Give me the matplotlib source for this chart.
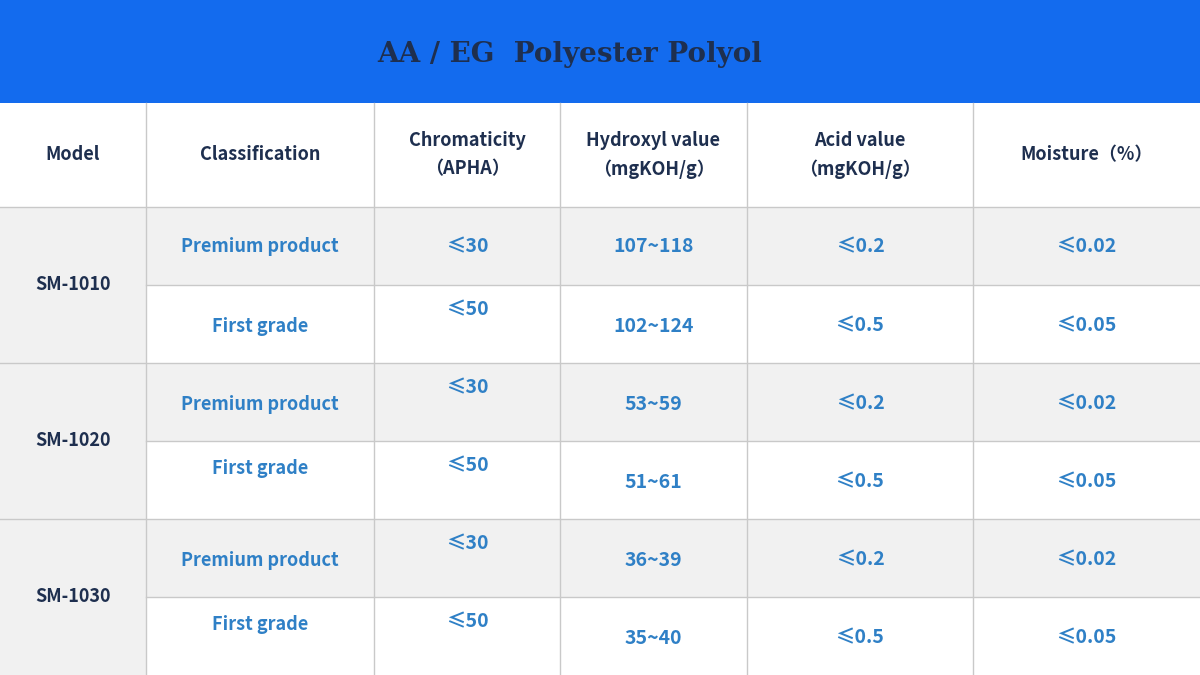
import matplotlib.pyplot as plt
from matplotlib.patches import Rectangle

plt.rcParams['font.family'] = ['Noto Sans CJK SC', 'DejaVu Sans']

title = "AA / EG  Polyester Polyol"
headers = ["Model", "Classification", "Chromaticity\n（APHA）", "Hydroxyl value\n（mgKOH/g）",
           "Acid value\n（mgKOH/g）", "Moisture（%）"]
models = ["SM-1010", "SM-1020", "SM-1030"]
classes = ["Premium product", "First grade"] * 3
chroma = ["≤30", "≤50", "≤30", "≤50", "≤30", "≤50"]
hydroxyl = ["107~118", "102~124", "53~59", "51~61", "36~39", "35~40"]
acid = ["≤0.2", "≤0.5"] * 3
moisture = ["≤0.02", "≤0.05"] * 3

col_x = [0, 146, 374, 560, 747, 973, 1200]
row_y = [207, 285, 363, 441, 519, 597, 675]
# text offsets in the reference are not always centred
class_y = [247, 326, 404, 468, 560, 624]
chroma_y = [247, 310, 388, 466, 544, 622]
value_y = [247, 326, 404, 482, 560, 638]

blue = "#136BEE"
navy = "#1E2F4F"
val_c = "#2F80C6"
line_c = "#C9C9C9"
gray = "#F1F1F1"

fig = plt.figure(figsize=(12, 6.75), dpi=100)
ax = fig.add_axes([0, 0, 1, 1])
ax.set_xlim(0, 1200)
ax.set_ylim(675, 0)
ax.axis("off")

ax.add_patch(Rectangle((0, 0), 1200, 103, color=blue, lw=0))
ax.text(570, 55, title, ha="center", va="center", fontsize=20, fontweight="bold",
        color=navy, family=["DejaVu Serif"])

cx = [(col_x[i] + col_x[i + 1]) / 2 for i in range(6)]
for i, h in enumerate(headers):
    ax.text(cx[i], 155, h, ha="center", va="center", fontsize=13, fontweight="bold",
            color=navy, linespacing=1.6)

for r in range(6):
    y0 = row_y[r]
    if r % 2 == 0:
        ax.add_patch(Rectangle((col_x[1], y0), 1200 - col_x[1], 78, color=gray, lw=0))
for m in range(3):
    ax.add_patch(Rectangle((0, row_y[2 * m]), col_x[1], 156, color=gray, lw=0))
    ax.text(cx[0], row_y[2 * m] + 78, models[m], ha="center", va="center",
            fontsize=13, fontweight="bold", color=navy)

for r in range(6):
    ax.text(cx[1], class_y[r], classes[r], ha="center", va="center", fontsize=13,
            fontweight="bold", color=val_c)
    ax.text(cx[2], chroma_y[r], chroma[r], ha="center", va="center", fontsize=14,
            fontweight="bold", color=val_c)
    ax.text(cx[3], value_y[r], hydroxyl[r], ha="center", va="center", fontsize=14,
            fontweight="bold", color=val_c)
    ax.text(cx[4], value_y[r], acid[r], ha="center", va="center", fontsize=14,
            fontweight="bold", color=val_c)
    ax.text(cx[5], value_y[r], moisture[r], ha="center", va="center", fontsize=14,
            fontweight="bold", color=val_c)

# grid lines
for x in col_x[1:-1]:
    ax.plot([x, x], [103, 675], color=line_c, lw=1)
for i, y in enumerate(row_y[:-1]):
    x_start = 0 if i % 2 == 0 else col_x[1]
    ax.plot([x_start, 1200], [y, y], color=line_c, lw=1)

fig.savefig("out.png", dpi=100)
